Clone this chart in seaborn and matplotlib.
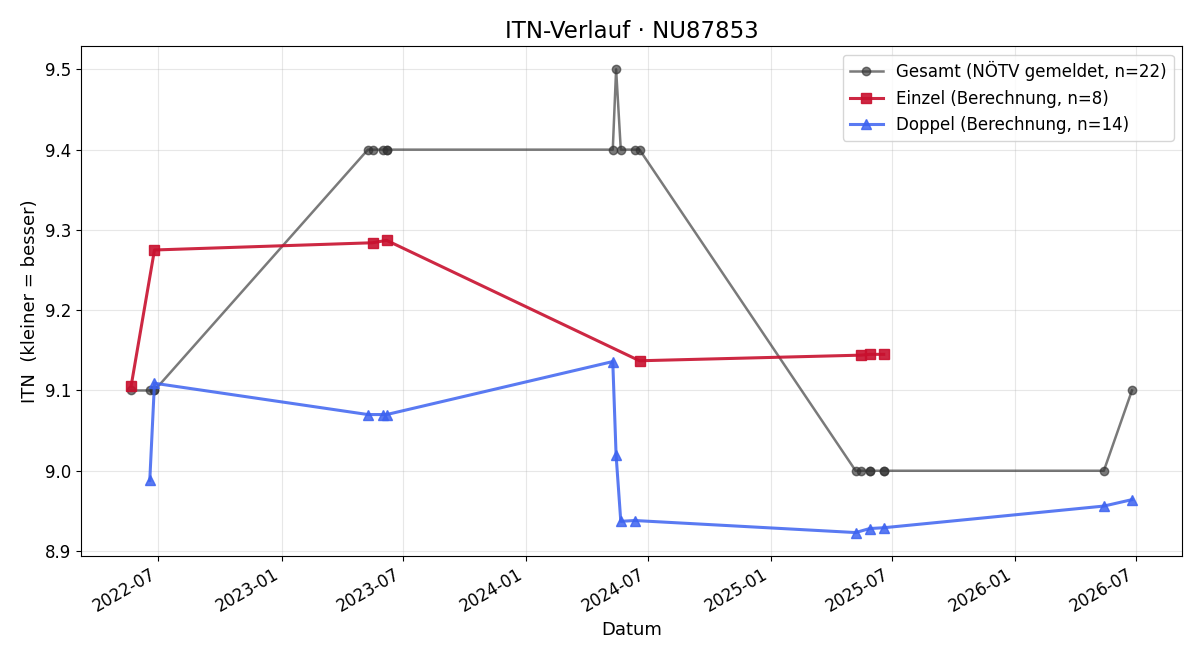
import pandas as pd
import seaborn as sns
import matplotlib.pyplot as plt

# Gesamt (reported by NÖTV)
gesamt_dates = ["2022-05-21", "2022-06-18", "2022-06-25", "2022-06-25",
                "2023-05-10", "2023-05-17", "2023-06-01", "2023-06-07", "2023-06-07",
                "2024-05-10", "2024-05-15", "2024-05-22", "2024-06-12", "2024-06-19",
                "2025-05-08", "2025-05-16", "2025-05-29", "2025-05-29", "2025-06-19", "2025-06-19",
                "2026-05-14", "2026-06-25"]
gesamt_itn = [9.1, 9.1, 9.1, 9.1,
              9.4, 9.4, 9.4, 9.4, 9.4,
              9.4, 9.5, 9.4, 9.4, 9.4,
              9.0, 9.0, 9.0, 9.0, 9.0, 9.0,
              9.0, 9.1]

# Einzel (computed)
einzel_dates = ["2022-05-21", "2022-06-25", "2023-05-17", "2023-06-07",
                "2024-06-19", "2025-05-16", "2025-05-29", "2025-06-19"]
einzel_itn = [9.105, 9.275, 9.284, 9.287, 9.137, 9.144, 9.145, 9.145]

# Doppel (computed)
doppel_dates = ["2022-06-18", "2022-06-25", "2023-05-10", "2023-06-01", "2023-06-07",
                "2024-05-10", "2024-05-15", "2024-05-22", "2024-06-12",
                "2025-05-08", "2025-05-29", "2025-06-19",
                "2026-05-14", "2026-06-25"]
doppel_itn = [8.988, 9.109, 9.070, 9.070, 9.070,
              9.136, 9.019, 8.937, 8.938,
              8.923, 8.928, 8.929,
              8.956, 8.964]

gesamt = pd.DataFrame({"Datum": pd.to_datetime(gesamt_dates), "ITN": gesamt_itn})
einzel = pd.DataFrame({"Datum": pd.to_datetime(einzel_dates), "ITN": einzel_itn})
doppel = pd.DataFrame({"Datum": pd.to_datetime(doppel_dates), "ITN": doppel_itn})

fig, ax = plt.subplots(figsize=(12, 6.6), dpi=100)

sns.lineplot(data=gesamt, x="Datum", y="ITN", ax=ax, color="#333333", alpha=0.65,
             marker="o", markersize=6, linewidth=1.8, estimator=None, sort=False,
             markeredgecolor="#333333", markeredgewidth=1,
             label="Gesamt (NÖTV gemeldet, n=22)")
sns.lineplot(data=einzel, x="Datum", y="ITN", ax=ax, color="#C8102E", alpha=0.9,
             marker="s", markersize=7.5, linewidth=2.2, estimator=None, sort=False,
             markeredgecolor="#C8102E", markeredgewidth=1,
             label="Einzel (Berechnung, n=8)")
sns.lineplot(data=doppel, x="Datum", y="ITN", ax=ax, color="#3D63F0", alpha=0.85,
             marker="^", markersize=7.5, linewidth=2.2, estimator=None, sort=False,
             markeredgecolor="#3D63F0", markeredgewidth=1,
             label="Doppel (Berechnung, n=14)")

ax.grid(True, alpha=0.3)
ax.set_title("ITN-Verlauf · NU87853", fontsize=16.5)
ax.set_xlabel("Datum", fontsize=13)
ax.set_ylabel("ITN  (kleiner = besser)", fontsize=13)
ax.legend(loc="upper right", fontsize=12)
fig.autofmt_xdate()
ax.tick_params(labelsize=12)

fig.subplots_adjust(left=0.0675, right=0.985, top=0.930, bottom=0.158)
plt.savefig("out.png")
